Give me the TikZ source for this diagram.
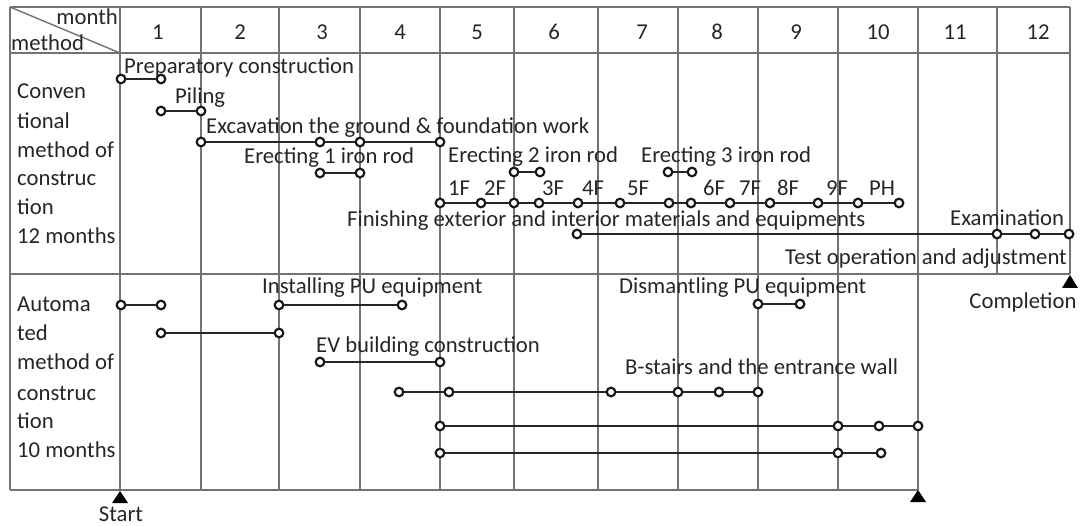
\documentclass[tikz,border=0pt]{standalone}
\usepackage{fontspec}
\setmainfont{Carlito}
\newcommand\fsz{\fontsize{22.7}{27}\selectfont}
\newcommand\gchain[3]{%
  \foreach \xx [count=\i, remember=\i as \j (initially 0)] in {#3}{%
    \node[dot] (#1-\i) at (\xx,#2) {};
    \ifnum\j>0 \draw[bar] (#1-\j) -- (#1-\i);\fi
  }%
}
\begin{document}
\begin{tikzpicture}[x=1pt,y=-1pt,
  dot/.style={circle,draw=black!90,fill=white,line width=2.2pt,inner sep=0pt,minimum size=8.6pt},
  bar/.style={line width=2.7pt,black!85},
  gridln/.style={draw=black!55,line width=1.4pt},
  lbl/.style={font=\fsz,text=black!85,inner sep=0pt,anchor=base west,yshift=-7pt},
  num/.style={font=\fsz,text=black!85,inner sep=0pt,anchor=base,yshift=-7pt},
  tri/.style={fill=black}]
\useasboundingbox (0,0) rectangle (1084,526);
% grid
\draw[gridln] (10,7) -- (1070,7);
\draw[gridln] (10,53) -- (1070,53);
\draw[gridln] (10,274) -- (1070,274);
\draw[gridln] (10,490) -- (918,490);
\draw[gridln] (10,7) -- (10,490);
\draw[gridln] (1070,7) -- (1070,274);
\draw[gridln] (997,7) -- (997,274);
\foreach \xx in {120,201,279,360,440,514,598,678,758,838,918}
  \draw[gridln] (\xx,7) -- (\xx,490);
\draw[gridln] (10,7) -- (120,53);
% header
\node[num,anchor=base east] (hmonth) at (118,18) {month};
\node[lbl] (hmethod) at (11,44) {method};
\foreach \xx/\t [count=\k] in {158/1,240/2,322/3,400/4,477/5,554/6,642/7,717/8,796/9,878/10,955/11,1038/12}
  \node[num] (h\k) at (\xx,33) {\t};
% left labels
\foreach \t/\yy [count=\k] in {Conven/92,tional/122,method of/151,construc/179,tion/208,12 months/237}
  \node[lbl] (lc\k) at (17,\yy) {\t};
\foreach \t/\yy [count=\k] in {Automa/305,ted/334,method of/363,construc/393,tion/421,10 months/450}
  \node[lbl] (la\k) at (17,\yy) {\t};
% conventional bars
\gchain{c1}{79}{121,161}
\gchain{c2}{111}{161,201}
\gchain{c3}{142}{201,320,360,440}
\gchain{c4}{173}{320,360}
\gchain{c5}{172}{514,540}
\gchain{c6}{172}{668,692}
\gchain{c7}{203}{440,481,514,539,578,620,669,691,730,770,818,858,899}
\gchain{c8}{234}{577,997,1035,1069}
% conventional labels
\node[lbl] (t1) at (124,67) {Preparatory construction};
\node[lbl] (t2) at (175,97) {Piling};
\node[lbl] (t3) at (206,127) {Excavation the ground \& foundation work};
\node[lbl] (t4) at (244,157) {Erecting 1 iron rod};
\node[lbl] (t5) at (448,156) {Erecting 2 iron rod};
\node[lbl] (t6) at (641,156) {Erecting 3 iron rod};
\foreach \t/\xx [count=\k] in {1F/459,2F/495,3F/553,4F/593,5F/638,6F/714,7F/750,8F/788,9F/837,PH/882}
  \node[num] (f\k) at (\xx,189) {\t};
\node[lbl] (t7) at (347,220) {Finishing exterior and interior materials and equipments};
\node[lbl] (t8) at (950,219) {Examination};
\node[lbl] (t9) at (785,258) {Test operation and adjustment};
% automated bars
\gchain{a1}{305}{121,161}
\gchain{a2}{333}{161,279}
\gchain{a3}{305}{279,402}
\gchain{a4}{304}{758,800}
\gchain{a5}{362}{320,440}
\gchain{a6}{392}{399,449,611,678,719,758}
\gchain{a7}{426}{440,838,879,918}
\gchain{a8}{453}{440,838,881}
% automated labels
\node[lbl] (u1) at (262,287) {Installing PU equipment};
\node[lbl] (u2) at (619,287) {Dismantling PU equipment};
\node[lbl] (u3) at (316,346) {EV building construction};
\node[lbl] (u4) at (625,367) {B-stairs and the entrance wall};
% milestones
\fill[tri] (120,491) -- (128,503) -- (112,503) -- cycle;
\fill[tri] (918,490) -- (926,502) -- (910,502) -- cycle;
\fill[tri] (1070,275) -- (1078,288) -- (1062,288) -- cycle;
\node[num] (start) at (121,514) {Start};
\node[num] (compl) at (1023,302) {Completion};
\end{tikzpicture}
\end{document}
